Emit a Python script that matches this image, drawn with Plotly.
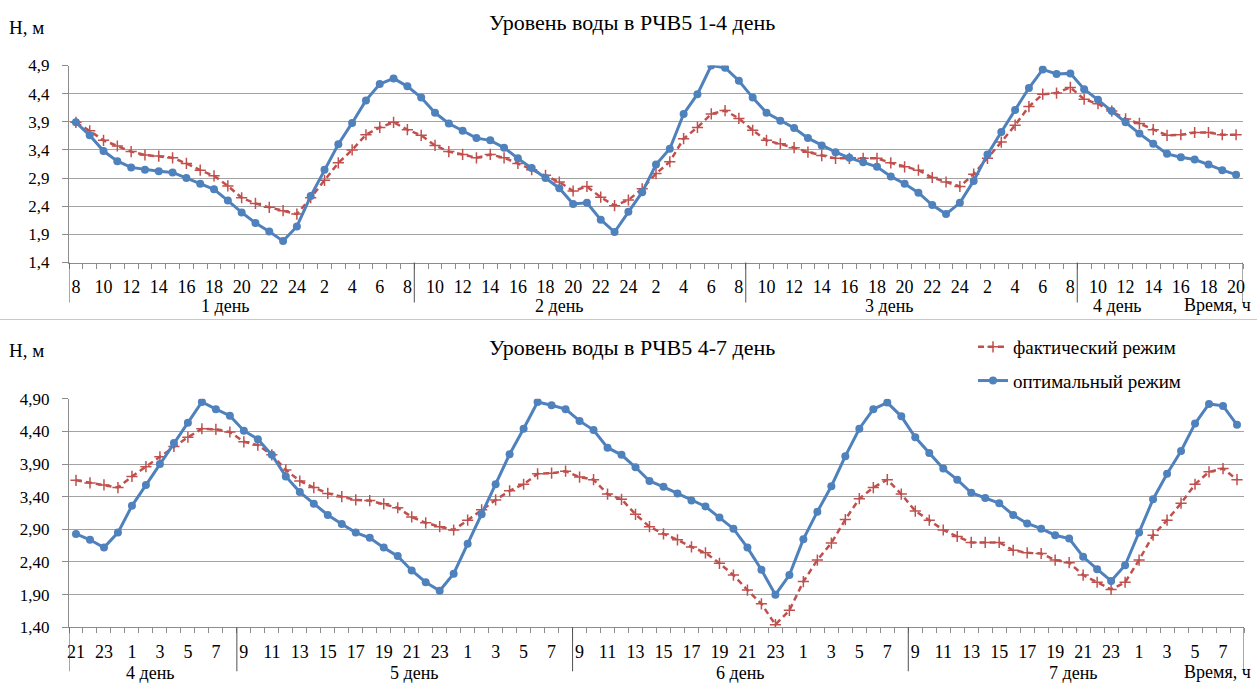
import plotly.graph_objects as go

W, H = 1257, 685

# ---------------- data ----------------
top_hours = ([str(h) for h in range(8, 25)] + [str(h) for h in range(1, 9)] +
             [str(h) for h in range(9, 25)] + [str(h) for h in range(1, 9)] +
             [str(h) for h in range(9, 25)] + [str(h) for h in range(1, 9)] +
             [str(h) for h in range(9, 21)])

top_optimal = [3.89, 3.66, 3.38, 3.20, 3.09, 3.05, 3.02, 3.00, 2.90, 2.80, 2.70, 2.50, 2.29,
               2.10, 1.95, 1.78, 2.04, 2.58, 3.05, 3.50, 3.88, 4.28, 4.57, 4.67, 4.53,
               4.33, 4.06, 3.87, 3.74, 3.61, 3.57, 3.44, 3.25, 3.08, 2.90, 2.72, 2.44, 2.46,
               2.16, 1.94, 2.30, 2.65, 3.14, 3.42, 4.04, 4.39, 4.90, 4.86, 4.63, 4.33, 4.06,
               3.92, 3.79, 3.61,
               3.48, 3.36, 3.26, 3.18, 3.10, 2.93, 2.80, 2.64, 2.42, 2.26, 2.46, 2.85, 3.32,
               3.72, 4.11, 4.50, 4.83, 4.75, 4.76, 4.48, 4.29, 4.09, 3.89, 3.69, 3.51, 3.33,
               3.27, 3.23, 3.14, 3.04, 2.96]

top_actual = [3.89, 3.74, 3.57, 3.47, 3.37, 3.31, 3.29, 3.26, 3.16, 3.04, 2.94, 2.76, 2.55,
              2.45, 2.38, 2.32, 2.26, 2.55, 2.86, 3.17, 3.40, 3.67, 3.80, 3.89, 3.76,
              3.66, 3.48, 3.37, 3.32, 3.26, 3.32, 3.26, 3.16, 3.05, 2.95, 2.83, 2.67, 2.75,
              2.56, 2.41, 2.51, 2.71, 2.98, 3.19, 3.60, 3.80, 4.04, 4.10, 3.96, 3.75, 3.57,
              3.51, 3.44, 3.36,
              3.30, 3.25, 3.25, 3.25, 3.25, 3.17, 3.10, 3.04, 2.91, 2.83, 2.75, 2.97, 3.25,
              3.54, 3.84, 4.17, 4.39, 4.41, 4.51, 4.30, 4.22, 4.09, 3.95, 3.87, 3.76, 3.66,
              3.67, 3.71, 3.71, 3.67, 3.67]

top_days = ["1 день", "2 день", "3 день", "4 день"]
top_day_ends = [24, 48, 72]          # last index of each day group (except the last)

bot_hours = (["21", "22", "23", "24"] + [str(h) for h in range(1, 9)] +
             ([str(h) for h in range(9, 25)] + [str(h) for h in range(1, 9)]) * 3)

bot_optimal = [2.83, 2.74, 2.62, 2.85, 3.26, 3.58, 3.90, 4.22, 4.53, 4.85, 4.74, 4.64, 4.41,
               4.28, 4.04, 3.71, 3.47, 3.29, 3.12, 2.98, 2.85, 2.77, 2.62, 2.49, 2.27,
               2.09, 1.96, 2.22, 2.68, 3.13, 3.59, 4.05, 4.44, 4.85, 4.80, 4.74, 4.56, 4.42,
               4.15, 4.04, 3.85, 3.64, 3.55, 3.45, 3.34, 3.25, 3.08, 2.91, 2.62, 2.28, 1.90,
               2.20, 2.75, 3.17,
               3.56, 4.02, 4.44, 4.74, 4.84, 4.63, 4.31, 4.07, 3.83, 3.66, 3.46, 3.38, 3.30,
               3.12, 2.99, 2.91, 2.81, 2.76, 2.48, 2.29, 2.11, 2.35, 2.85, 3.36, 3.75, 4.10,
               4.52, 4.82, 4.79, 4.50]

bot_actual = [3.65, 3.61, 3.58, 3.54, 3.71, 3.86, 4.01, 4.17, 4.31, 4.44, 4.43, 4.39, 4.24,
              4.19, 4.04, 3.81, 3.64, 3.54, 3.45, 3.40, 3.35, 3.34, 3.29, 3.23, 3.09,
              3.00, 2.94, 2.89, 3.04, 3.20, 3.35, 3.49, 3.59, 3.75, 3.76, 3.79, 3.70, 3.66,
              3.44, 3.36, 3.13, 2.94, 2.83, 2.74, 2.63, 2.54, 2.38, 2.20, 1.97, 1.76, 1.44,
              1.66, 2.10, 2.43,
              2.69, 3.05, 3.37, 3.54, 3.66, 3.44, 3.18, 3.04, 2.89, 2.79, 2.70, 2.70, 2.70,
              2.58, 2.54, 2.53, 2.43, 2.39, 2.20, 2.09, 1.98, 2.09, 2.43, 2.81, 3.04, 3.30,
              3.59, 3.78, 3.83, 3.66]

bot_days = ["4 день", "5 день", "6 день", "7 день"]
bot_day_ends = [11, 35, 59]

titles = ["Уровень воды в РЧВ5 1-4 день", "Уровень воды в РЧВ5 4-7 день"]
series_names = ["фактический режим", "оптимальный режим"]
y_title = "H, м"
x_title = "Время, ч"

# ---------------- style ----------------
RED = "#C0504D"
BLUE = "#4F81BD"
GRID = "#A3A3A3"
AXIS = "#8C8C8C"
SEP = "#505050"
FONT = "'Liberation Serif', 'Times New Roman', 'DejaVu Serif', serif"


def px_x(p):
    return p / W


def px_y(p):
    return (H - p) / H


fig = go.Figure()

tx = list(range(len(top_hours)))
bx = list(range(len(bot_hours)))

red_line = dict(color=RED, width=2.5, dash="6px,4px")
red_marker = dict(symbol="cross-thin-open", size=8, line=dict(color=RED, width=1.5))
blue_line = dict(color=BLUE, width=3)
blue_marker = dict(symbol="circle", size=8, color=BLUE)

fig.add_trace(go.Scatter(x=tx, y=top_actual, mode="lines+markers", name=series_names[0],
                         line=red_line, marker=red_marker,
                         xaxis="x", yaxis="y", showlegend=False))
fig.add_trace(go.Scatter(x=tx, y=top_optimal, mode="lines+markers", name=series_names[1],
                         line=blue_line, marker=blue_marker,
                         xaxis="x", yaxis="y", showlegend=False))
fig.add_trace(go.Scatter(x=bx, y=bot_actual, mode="lines+markers", name=series_names[0],
                         line=red_line, marker=red_marker,
                         xaxis="x2", yaxis="y2", legendgroup="a"))
fig.add_trace(go.Scatter(x=bx, y=bot_optimal, mode="lines+markers", name=series_names[1],
                         line=blue_line, marker=blue_marker,
                         xaxis="x2", yaxis="y2", legendgroup="b"))

top_dom_y = [px_y(262.5), px_y(65.5)]
bot_dom_y = [px_y(627.3), px_y(398.7)]


def xaxis_cfg(hours, dom):
    n = len(hours)
    return dict(domain=dom, range=[-0.5, n - 0.5], showgrid=False, zeroline=False,
                showline=True, linecolor=AXIS, linewidth=1,
                tickmode="array", tickvals=list(range(0, n, 2)), ticktext=hours[0::2],
                ticks="", ticklabelstandoff=8,
                tickfont=dict(family=FONT, size=18, color="black"),
                minor=dict(tickmode="array", tickvals=[i - 0.5 for i in range(n + 1)],
                           ticks="outside", ticklen=5, tickcolor=AXIS, tickwidth=1,
                           showgrid=False))


def yaxis_cfg(dom, fmt, anchor):
    return dict(domain=dom, range=[1.4, 4.9], tick0=1.4, dtick=0.5, tickformat=fmt,
                showgrid=True, gridcolor=GRID, gridwidth=1, zeroline=False,
                showline=True, linecolor=AXIS, linewidth=1,
                ticks="outside", ticklen=6, tickcolor=AXIS, anchor=anchor,
                ticklabelstandoff=9,
                tickfont=dict(family=FONT, size=17, color="black"))


fig.update_layout(
    width=W, height=H, margin=dict(l=0, r=0, t=0, b=0, pad=0, autoexpand=False),
    paper_bgcolor="white", plot_bgcolor="white",
    separators=", ",
    font=dict(family=FONT, size=18, color="black"),
    xaxis=xaxis_cfg(top_hours, [px_x(69), px_x(1243)]) | dict(anchor="y"),
    yaxis=yaxis_cfg(top_dom_y, ".1f", "x"),
    xaxis2=xaxis_cfg(bot_hours, [px_x(69), px_x(1244)]) | dict(anchor="y2"),
    yaxis2=yaxis_cfg(bot_dom_y, ".2f", "x2"),
    legend=dict(x=px_x(973), y=px_y(328), xanchor="left", yanchor="top",
                font=dict(family=FONT, size=19, color="black"),
                bgcolor="rgba(0,0,0,0)", traceorder="grouped", tracegroupgap=6,
                itemwidth=30),
    showlegend=True,
)

shapes = []
annotations = []


def group_decor(xref, dom_bottom_px, ends, n, days, day_pos, day_y_px, sep_len):
    y0 = px_y(dom_bottom_px)
    y1 = px_y(dom_bottom_px + sep_len)
    for b in [-1] + ends + [n - 1]:
        shapes.append(dict(type="line", xref=xref, yref="paper", x0=b + 0.5, x1=b + 0.5,
                           y0=y0, y1=y1, line=dict(color=SEP, width=1)))
    for d, p in zip(days, day_pos):
        annotations.append(dict(text=d, xref=xref, yref="paper", x=p, y=px_y(day_y_px),
                                showarrow=False, xanchor="center", yanchor="middle",
                                font=dict(family=FONT, size=18, color="black")))


group_decor("x", 262.5, top_day_ends, len(top_hours), top_days, [10.8, 35.0, 58.9, 75.4], 306, 40)
group_decor("x2", 627.3, bot_day_ends, len(bot_hours), bot_days, [5.3, 24.2, 47.5, 71.3], 673, 44)

for t, yp in zip(titles, [22, 347]):
    annotations.append(dict(text=t, xref="paper", yref="paper", x=px_x(632), y=px_y(yp),
                            showarrow=False, xanchor="center", yanchor="middle",
                            font=dict(family=FONT, size=22, color="black")))
for yp in [27, 350]:
    annotations.append(dict(text=y_title, xref="paper", yref="paper", x=px_x(7), y=px_y(yp),
                            showarrow=False, xanchor="left", yanchor="middle",
                            font=dict(family=FONT, size=19, color="black")))
for yp in [305, 672]:
    annotations.append(dict(text=x_title, xref="paper", yref="paper", x=px_x(1253), y=px_y(yp),
                            showarrow=False, xanchor="right", yanchor="middle",
                            font=dict(family=FONT, size=18, color="black")))

# thin divider between the two charts
shapes.append(dict(type="line", xref="paper", yref="paper", x0=0, x1=1,
                   y0=px_y(319.5), y1=px_y(319.5), line=dict(color="#C8C8C8", width=1)))

fig.update_layout(shapes=shapes, annotations=annotations)

fig.write_html("out.html", config={"displayModeBar": False},
               post_script="document.body.style.margin='0';document.body.style.padding='0';"
                           "document.documentElement.style.overflow='hidden';")
